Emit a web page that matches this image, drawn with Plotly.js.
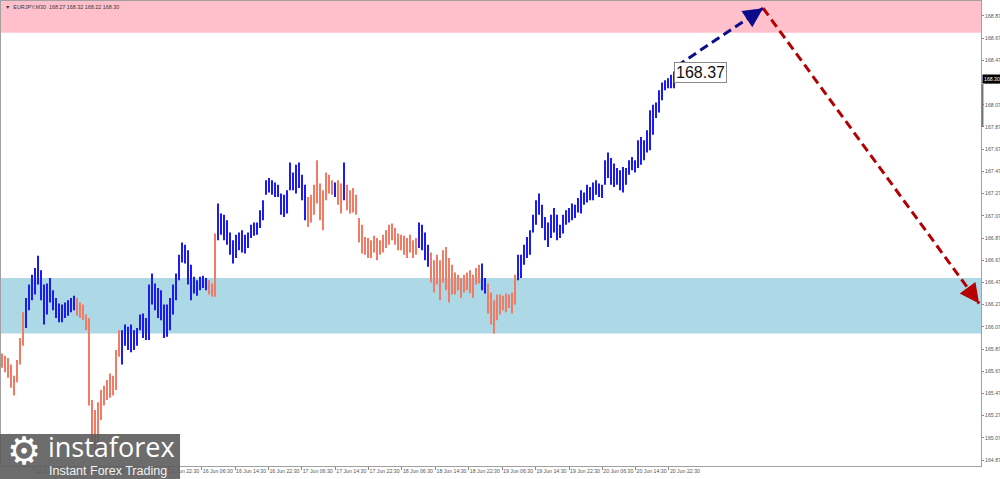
<!DOCTYPE html>
<html>
<head>
<meta charset="utf-8">
<script src="https://cdn.plot.ly/plotly-3.0.1.min.js"></script>
<style>
  html, body { margin: 0; padding: 0; background: #fff; }
  #chart { width: 1000px; height: 479px; }
</style>
</head>
<body>
<div id="chart"></div>
<script>
// ---- data (EURJPY M30 bars) ----
const highs = [
165.83,165.81,165.79,165.73,165.63,165.77,165.97,166.20,166.33,166.45,
166.54,166.60,166.71,166.58,166.45,166.46,166.51,166.40,166.33,166.28,
166.27,166.29,166.31,166.33,166.35,166.33,166.29,166.27,166.18,166.15,
165.41,165.32,165.39,165.50,165.54,165.59,165.65,165.63,165.86,166.04,
166.04,166.09,166.07,166.09,166.04,166.06,166.18,166.19,166.15,166.45,
166.55,166.46,166.42,166.40,166.27,166.27,166.33,166.45,166.55,166.72,
166.83,166.81,166.76,166.63,166.52,166.49,166.52,166.53,166.51,166.49,
166.46,166.91,167.18,167.09,167.08,167.03,166.92,166.85,166.90,166.92,
166.94,166.90,166.92,166.99,167.01,167.01,167.12,167.21,167.39,167.41,
167.39,167.37,167.35,167.27,167.26,167.30,167.55,167.46,167.53,167.55,
167.44,167.35,167.24,167.26,167.35,167.57,167.36,167.30,167.46,167.44,
167.39,167.37,167.39,167.36,167.55,167.35,167.30,167.32,167.26,167.05,
166.99,166.88,166.87,166.85,166.89,166.87,166.85,166.90,166.94,166.99,
167.00,166.96,166.91,166.90,166.89,166.87,166.90,166.85,166.87,167.01,
166.99,166.92,166.81,166.74,166.67,166.72,166.67,166.76,166.79,166.69,
166.63,166.56,166.54,166.51,166.54,166.56,166.58,166.54,166.60,166.63,
166.64,166.51,166.46,166.38,166.31,166.36,166.36,166.35,166.37,166.36,
166.38,166.54,166.72,166.72,166.81,166.88,166.94,167.08,167.21,167.27,
167.17,167.06,167.01,167.08,167.14,167.08,166.99,167.08,167.12,167.14,
167.18,167.17,167.23,167.30,167.28,167.35,167.33,167.37,167.39,167.36,
167.35,167.57,167.64,167.59,167.54,167.50,167.48,167.51,167.50,167.57,
167.60,167.57,167.75,167.78,167.75,167.84,168.02,168.07,168.09,168.20,
168.27,168.29,168.31,168.34,168.37
];
const lows = [
165.70,165.66,165.61,165.52,165.45,165.57,165.73,165.90,166.06,166.22,
166.31,166.36,166.45,166.31,166.09,166.18,166.29,166.22,166.15,166.11,
166.11,166.15,166.17,166.20,166.22,166.17,166.15,166.13,166.04,165.36,
165.00,164.94,164.98,165.23,165.36,165.41,165.43,165.45,165.50,165.80,
165.73,165.90,165.86,165.84,165.86,165.90,166.04,165.97,165.95,165.95,
166.27,166.22,166.15,166.13,165.97,165.98,166.04,166.18,166.31,166.49,
166.65,166.64,166.45,166.31,166.37,166.35,166.40,166.42,166.40,166.36,
166.34,166.34,166.85,166.90,166.85,166.81,166.72,166.64,166.69,166.76,
166.74,166.73,166.78,166.87,166.89,166.90,166.96,167.03,167.26,167.28,
167.26,167.24,167.24,167.08,167.06,167.09,167.30,167.30,167.27,167.32,
167.21,167.03,166.97,167.01,167.08,167.18,167.03,166.94,167.21,167.27,
167.26,167.24,167.17,167.09,167.21,167.12,167.09,167.10,167.08,166.83,
166.73,166.72,166.69,166.69,166.74,166.67,166.72,166.74,166.78,166.81,
166.85,166.81,166.76,166.76,166.72,166.69,166.74,166.69,166.72,166.78,
166.76,166.67,166.61,166.47,166.38,166.45,166.31,166.47,166.40,166.29,
166.36,166.36,166.40,166.33,166.38,166.40,166.37,166.33,166.45,166.46,
166.40,166.37,166.19,166.09,166.01,166.13,166.18,166.22,166.20,166.24,
166.19,166.27,166.49,166.51,166.63,166.69,166.72,166.92,166.99,167.08,
166.96,166.85,166.79,166.87,166.92,166.85,166.87,166.91,166.99,167.01,
167.03,167.05,167.10,167.09,167.17,167.19,167.21,167.21,167.26,167.24,
167.23,167.35,167.41,167.35,167.33,167.35,167.30,167.28,167.35,167.44,
167.48,167.46,167.50,167.53,167.57,167.64,167.66,167.80,167.95,168.00,
168.11,168.20,168.22,168.22,168.22
];
// wave segments: first bar index of each wave and its direction
const waveStarts = [0, 8, 25, 40, 69, 72, 102, 111, 112, 114, 115, 139, 143, 160, 162, 172];
const waveDirs   = ['down','up','down','up','down','up','down','up','down','up','down','up','down','up','down','up'];

// time axis labels and their bar positions
const timeTickPos = [10.9, 22.0, 33.2, 44.3, 55.4, 66.6, 77.7, 88.8, 99.9, 111.1, 122.2,
                     133.3, 144.5, 155.6, 166.7, 177.8, 189.0, 200.1, 211.2, 222.3];
const timeTickText = ['12 Jun 14:30','12 Jun 22:30','13 Jun 06:30','13 Jun 14:30','13 Jun 22:30',
                      '16 Jun 06:30','16 Jun 14:30','16 Jun 22:30','17 Jun 06:30','17 Jun 14:30',
                      '17 Jun 22:30','18 Jun 06:30','18 Jun 14:30','18 Jun 22:30','19 Jun 06:30',
                      '19 Jun 14:30','19 Jun 22:30','20 Jun 06:30','20 Jun 14:30','20 Jun 22:30'];
const priceTicks = ['164.87','165.07','165.27','165.47','165.67','165.87','166.07','166.27','166.47',
                    '166.67','166.87','167.07','167.27','167.47','167.67','167.87','168.07','168.27',
                    '168.47','168.67','168.87'];

// zones
const resistanceZone = [168.72, 169.005];
const supportZone = [166.01, 166.51];

// forecast path (bar position, price)
const forecastPos = [225, 253.7, 325.7];
const forecastPrice = [168.42, 168.94, 166.28];

const headerText = 'EURJPY,M30  168.27 168.32 168.22 168.30';
const lastClose = 168.30;
const waveTop = 168.37;

// ---- build traces ----
const colorUp = '#1c1cf2';
const colorDown = '#f27b66';
function dirOf(i) {
  let d = waveDirs[0];
  for (let k = 0; k < waveStarts.length; k++) if (i >= waveStarts[k]) d = waveDirs[k];
  return d;
}
const seg = { up: {x: [], y: []}, down: {x: [], y: []} };
for (let i = 0; i < highs.length; i++) {
  const s = seg[dirOf(i)];
  s.x.push(i, i, null);
  s.y.push(lows[i], highs[i], null);
}
const traces = [
  { type: 'scatter', mode: 'lines', x: seg.down.x, y: seg.down.y, line: {color: colorDown, width: 2}, hoverinfo: 'skip', connectgaps: false },
  { type: 'scatter', mode: 'lines', x: seg.up.x, y: seg.up.y, line: {color: colorUp, width: 2}, hoverinfo: 'skip', connectgaps: false }
];

const shapes = [
  { type: 'rect', xref: 'paper', yref: 'y', x0: 0, x1: 1, y0: resistanceZone[0], y1: resistanceZone[1],
    fillcolor: '#ffc0cb', line: {width: 0}, layer: 'below' },
  { type: 'rect', xref: 'paper', yref: 'y', x0: 0, x1: 1, y0: supportZone[0], y1: supportZone[1],
    fillcolor: '#add8e6', line: {width: 0}, layer: 'below' },
  { type: 'line', xref: 'x', yref: 'y', x0: forecastPos[0], y0: forecastPrice[0], x1: forecastPos[1], y1: forecastPrice[1],
    line: {color: '#0c0c8a', width: 3, dash: '9px,5px'} },
  { type: 'line', xref: 'x', yref: 'y', x0: forecastPos[1], y0: forecastPrice[1], x1: forecastPos[2], y1: forecastPrice[2],
    line: {color: '#b40000', width: 3, dash: '9px,5px'} },
  // scrollbar-like marker on price scale
  { type: 'line', xref: 'paper', yref: 'paper', x0: 1.0015, x1: 1.0015, y0: 0.729, y1: 0.8215,
    line: {color: '#777', width: 2} },
  // logo box
  { type: 'rect', xref: 'paper', yref: 'paper', x0: -0.002, x1: 0.1827, y0: -0.03, y1: 0.069,
    fillcolor: 'rgba(92,92,92,0.9)', line: {width: 0}, layer: 'above' }
];

const annotations = [
  { xref: 'x', yref: 'y', x: forecastPos[1], y: forecastPrice[1], ax: -15, ay: 10, axref: 'pixel', ayref: 'pixel',
    text: '', showarrow: true, arrowhead: 2, arrowsize: 1.3, arrowwidth: 3, arrowcolor: '#0c0c8a', standoff: 0 },
  { xref: 'x', yref: 'y', x: forecastPos[2], y: forecastPrice[2], ax: -11, ay: -15, axref: 'pixel', ayref: 'pixel',
    text: '', showarrow: true, arrowhead: 2, arrowsize: 1.3, arrowwidth: 3, arrowcolor: '#b40000', standoff: 0 },
  { xref: 'x', yref: 'y', x: highs.length - 1, y: waveTop - 0.01, xanchor: 'left', yanchor: 'middle', xshift: 0,
    text: waveTop.toFixed(2), showarrow: false, bgcolor: '#fff', bordercolor: '#8a8a8a', borderwidth: 1, borderpad: 1,
    font: {family: 'Liberation Sans, Arial, sans-serif', size: 16, color: '#111'} },
  { xref: 'paper', yref: 'y', x: 1, y: lastClose, xanchor: 'left', yanchor: 'middle', xshift: 1,
    text: lastClose.toFixed(2), showarrow: false, bgcolor: '#000', borderpad: 1,
    font: {family: 'Liberation Sans, Arial, sans-serif', size: 5.2, color: '#fff'} },
  { xref: 'paper', yref: 'paper', x: 0.002, y: 0.997, xanchor: 'left', yanchor: 'top',
    text: '\u25BC  ' + headerText, showarrow: false,
    font: {family: 'Liberation Sans, Arial, sans-serif', size: 5.4, color: '#3a3a3a'} },
  // logo
  { xref: 'paper', yref: 'paper', x: 0.004, y: 0.033, xanchor: 'left', yanchor: 'middle',
    text: '\u2699', showarrow: false, font: {family: 'DejaVu Sans', size: 38, color: '#fff'} },
  { xref: 'paper', yref: 'paper', x: 0.046, y: 0.042, xanchor: 'left', yanchor: 'middle',
    text: 'instaforex', showarrow: false, font: {family: 'Open Sans, Liberation Sans, sans-serif', size: 27, color: '#fff'} },
  { xref: 'paper', yref: 'paper', x: 0.047, y: -0.010, xanchor: 'left', yanchor: 'middle',
    text: 'Instant Forex Trading', showarrow: false, font: {family: 'Liberation Sans, Arial, sans-serif', size: 12.5, color: '#f2f2f2'} }
];

const layout = {
  width: 1000, height: 479,
  margin: {l: 1, r: 19, t: 1, b: 13, pad: 0},
  paper_bgcolor: '#fff', plot_bgcolor: '#fff',
  showlegend: false,
  xaxis: {
    range: [-0.333, 326.333], showgrid: false, zeroline: false,
    showline: true, linecolor: '#a0a0a0', linewidth: 1, mirror: true,
    ticks: 'outside', ticklen: 3, tickcolor: '#888', tickwidth: 1,
    tickmode: 'array', tickvals: timeTickPos, ticktext: timeTickText,
    tickangle: 0, ticklabelposition: 'outside right', ticklabelstandoff: 0,
    tickfont: {family: 'Liberation Sans Narrow, Liberation Sans, Arial, sans-serif', size: 5.2, color: '#555'},
    fixedrange: true
  },
  yaxis: {
    range: [164.816, 169.005], side: 'right', showgrid: false, zeroline: false,
    showline: true, linecolor: '#a0a0a0', linewidth: 1, mirror: true,
    ticks: 'outside', ticklen: 2, tickcolor: '#888', tickwidth: 1,
    tickmode: 'array', tickvals: priceTicks.map(Number), ticktext: priceTicks,
    ticklabelstandoff: 0,
    tickfont: {family: 'Liberation Sans Narrow, Liberation Sans, Arial, sans-serif', size: 5.2, color: '#555'},
    fixedrange: true
  },
  shapes: shapes,
  annotations: annotations
};

Plotly.newPlot('chart', traces, layout, {displayModeBar: false, staticPlot: true});
</script>
</body>
</html>
